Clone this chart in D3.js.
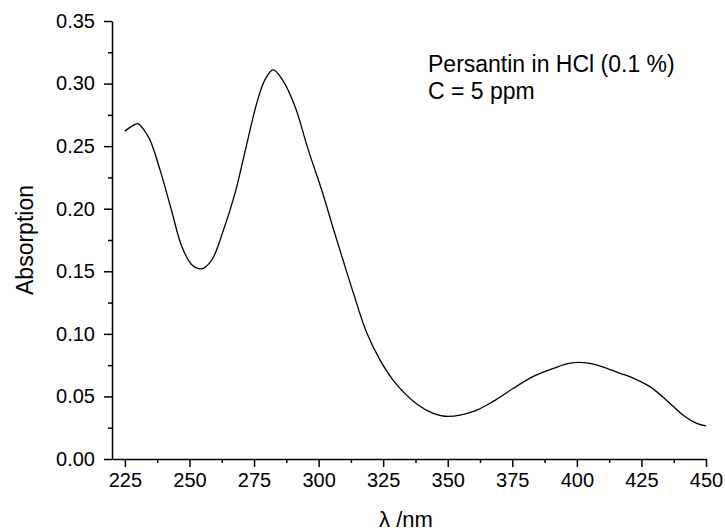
<!DOCTYPE html>
<html>
<head>
<meta charset="utf-8">
<script src="https://cdn.jsdelivr.net/npm/d3@7"></script>
<style>
  body { margin: 0; background: #fff; }
  text { font-family: "Liberation Sans", Arial, sans-serif; fill: #000; }
</style>
</head>
<body>
<div id="chart"></div>
<script>
  const WAVELENGTH = [225, 227, 230, 232, 234.7, 238.6, 243, 247, 251, 254.7, 258.6, 263, 267.6, 272, 276,
    279.2, 282.4, 286.3, 290.8, 296, 301.5, 305.7, 309.6, 313.4, 318.6, 323.8, 330, 338, 344.4, 350,
    360, 367.6, 375.4, 383, 391, 397, 403, 409, 416.7, 422, 428.3, 434.7, 441.2, 446.4, 450];
  const ABSORPTION = [0.262, 0.265, 0.268, 0.264, 0.255, 0.231, 0.199, 0.170, 0.155, 0.152, 0.159, 0.182, 0.212, 0.250, 0.284,
    0.303, 0.311, 0.302, 0.282, 0.247, 0.213, 0.184, 0.158, 0.133, 0.101, 0.079, 0.060, 0.044, 0.0365, 0.034,
    0.038, 0.046, 0.0565, 0.0658, 0.0725, 0.0765, 0.077, 0.0743, 0.0685, 0.0645, 0.0578, 0.047, 0.035, 0.0285, 0.0264];
  const X_TICKS = [225, 250, 275, 300, 325, 350, 375, 400, 425, 450];
  const Y_TICKS = [0, 0.05, 0.10, 0.15, 0.20, 0.25, 0.30, 0.35];
  const NOTE_LINES = ["Persantin in HCl (0.1 %)", "C = 5 ppm"];

  const width = 725;
  const height = 531;
  const plotLeft = 112, plotRight = 706, plotTop = 21, plotBottom = 459;

  const svg = d3.select("#chart")
    .append("svg")
    .attr("width", width)
    .attr("height", height);

  const x = d3.scaleLinear().domain([220, 450]).range([plotLeft, plotRight]);
  const y = d3.scaleLinear().domain([0, 0.35]).range([plotBottom, plotTop]);

  // minor ticks first, major axes on top
  const xMinor = d3.range(237.5, 450, 25);
  const yMinor = d3.range(0.025, 0.35, 0.05);

  const xMinorAxis = svg.append("g")
    .attr("transform", `translate(0,${plotBottom})`)
    .call(d3.axisBottom(x).tickValues(xMinor).tickSize(4).tickFormat(""))
    .call(g => g.select(".domain").remove());

  const yMinorAxis = svg.append("g")
    .attr("transform", `translate(${plotLeft},0)`)
    .call(d3.axisLeft(y).tickValues(yMinor).tickSize(4).tickFormat(""))
    .call(g => g.select(".domain").remove());

  const xAxis = svg.append("g")
    .attr("transform", `translate(0,${plotBottom})`)
    .call(d3.axisBottom(x).tickValues(X_TICKS).tickSize(8).tickSizeOuter(0).tickPadding(6).tickFormat(d3.format("d")));

  const yAxis = svg.append("g")
    .attr("transform", `translate(${plotLeft},0)`)
    .call(d3.axisLeft(y).tickValues(Y_TICKS).tickSize(8).tickSizeOuter(0).tickPadding(9).tickFormat(d3.format(".2f")));

  [xMinorAxis, yMinorAxis, xAxis, yAxis].forEach(g => {
    g.selectAll("path, line").attr("stroke", "#000").attr("stroke-width", 1.5);
    g.selectAll("text")
      .style("font-family", "'Liberation Sans', Arial, sans-serif")
      .style("font-size", "20px")
      .attr("fill", "#000");
  });

  const line = d3.line()
    .x((d, i) => x(WAVELENGTH[i]))
    .y(d => y(d))
    .curve(d3.curveCatmullRom.alpha(0.5));

  svg.append("path")
    .datum(ABSORPTION)
    .attr("d", line)
    .attr("fill", "none")
    .attr("stroke", "#000")
    .attr("stroke-width", 1.3);

  svg.append("text")
    .attr("transform", `translate(33,${(plotTop + plotBottom) / 2}) rotate(-90)`)
    .attr("text-anchor", "middle")
    .style("font-size", "23px")
    .text("Absorption");

  svg.append("text")
    .attr("x", (plotLeft + plotRight) / 2 - 3)
    .attr("y", 527)
    .attr("text-anchor", "middle")
    .style("font-size", "22px")
    .text("λ /nm");

  svg.selectAll("text.note")
    .data(NOTE_LINES)
    .enter()
    .append("text")
    .attr("class", "note")
    .attr("x", 428)
    .attr("y", (d, i) => 72 + i * 27)
    .style("font-size", "23px")
    .text(d => d);
</script>
</body>
</html>
